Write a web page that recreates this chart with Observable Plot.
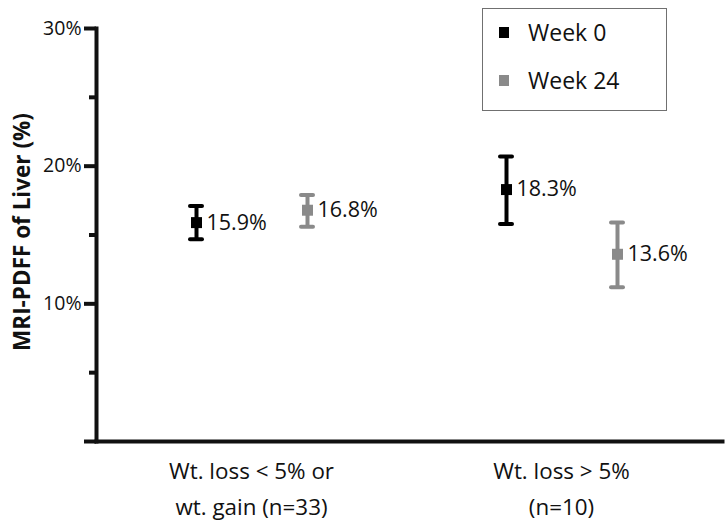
<!DOCTYPE html>
<html><head><meta charset="utf-8">
<script src="https://cdn.jsdelivr.net/npm/d3@7"></script>
<script src="https://cdn.jsdelivr.net/npm/@observablehq/plot@0.6"></script>
<style>
body{margin:0;background:#fff;font-family:"Open Sans",sans-serif}
#wrap{position:relative;width:726px;height:529px;overflow:hidden}
#legend{position:absolute;left:482px;top:8px;width:183px;height:101px;border:1.5px solid #707070;background:#fff}
.item{position:absolute;left:0;height:30px;line-height:30px;font-size:23px;color:#111;white-space:nowrap}
.sw{position:absolute;left:16px;top:9px;width:10px;height:11px}
.lbl{position:absolute;left:45px;top:-1px}
</style></head><body><div id="wrap"><div id="chart"></div><div id="legend"></div></div>
<script>
const groups = ["Wt. loss < 5% or\nwt. gain (n=33)", "Wt. loss > 5%\n(n=10)"];
const series = ["Week 0", "Week 24"];
const means = [[15.9, 16.8], [18.3, 13.6]];
const upper = [[17.1, 17.9], [20.7, 15.9]];
const lower = [[14.7, 15.6], [15.8, 11.2]];
const colors = ["#000000", "#8a8a8a"];
const yTicks = [0, 10, 20, 30];
const yMinor = [5, 15, 25];
const yLabel = "MRI-PDFF of Liver (%)";

const rows = [];
groups.forEach((g, i) => series.forEach((s, j) => rows.push({group: g, series: s, mean: means[i][j], hi: upper[i][j], lo: lower[i][j]})));

const plot = Plot.plot({
  width: 726, height: 529,
  marginTop: 28, marginBottom: 88, marginLeft: 95, marginRight: 10,
  style: {fontFamily: "Open Sans", background: "transparent", color: "#111"},
  fx: {domain: groups, padding: 0, axis: null},
  x: {domain: series, paddingInner: 0.893, paddingOuter: 0.833, axis: null},
  y: {domain: [0, 30]},
  color: {domain: series, range: colors},
  marks: [
    Plot.axisY(yTicks, {tickSize: 12, tickPadding: 3, strokeWidth: 4, fontSize: 19.5, tickFormat: d => d ? d + "%" : "", label: null, color: "#111"}),
    Plot.axisY(yMinor, {tickSize: 7, strokeWidth: 4, tickFormat: () => "", label: null, color: "#111"}),
    Plot.frame({anchor: "left", facet: "super", strokeWidth: 4, stroke: "#111"}),
    Plot.frame({anchor: "bottom", facet: "super", strokeWidth: 4, stroke: "#111", insetRight: -6}),
    Plot.ruleX(rows, {fx: "group", x: "series", y1: "lo", y2: "hi", stroke: "series", strokeWidth: 4}),
    Plot.tickY(rows, {fx: "group", x: "series", y: "hi", stroke: "series", strokeWidth: 4, strokeLinecap: "round"}),
    Plot.tickY(rows, {fx: "group", x: "series", y: "lo", stroke: "series", strokeWidth: 4, strokeLinecap: "round"}),
    Plot.dot(rows, {fx: "group", x: "series", y: "mean", fill: "series", symbol: "square", r: 6.2}),
    Plot.text(rows, {fx: "group", x: "series", y: "mean", text: d => d.mean.toFixed(1) + "%", dx: 10, textAnchor: "start", fontSize: 21.5, fill: "#111"}),
    Plot.text(groups, {fx: d => d, text: d => d, frameAnchor: "bottom", lineAnchor: "top", dy: 12, fontSize: 22.4, lineHeight: 1.6, fill: "#111"}),
    Plot.text([yLabel], {fx: () => groups[0], text: d => d, frameAnchor: "left", textAnchor: "middle", rotate: -90, dx: -74, dy: -3, fontSize: 22.5, fontWeight: "bold", fill: "#111"})
  ]
});
document.getElementById("chart").appendChild(plot);

const legend = document.getElementById("legend");
series.forEach((s, i) => {
  const item = document.createElement("div");
  item.className = "item";
  item.style.top = (9 + i * 48) + "px";
  item.innerHTML = `<span class="sw" style="background:${colors[i]}"></span><span class="lbl">${s}</span>`;
  legend.appendChild(item);
});
</script></body></html>
